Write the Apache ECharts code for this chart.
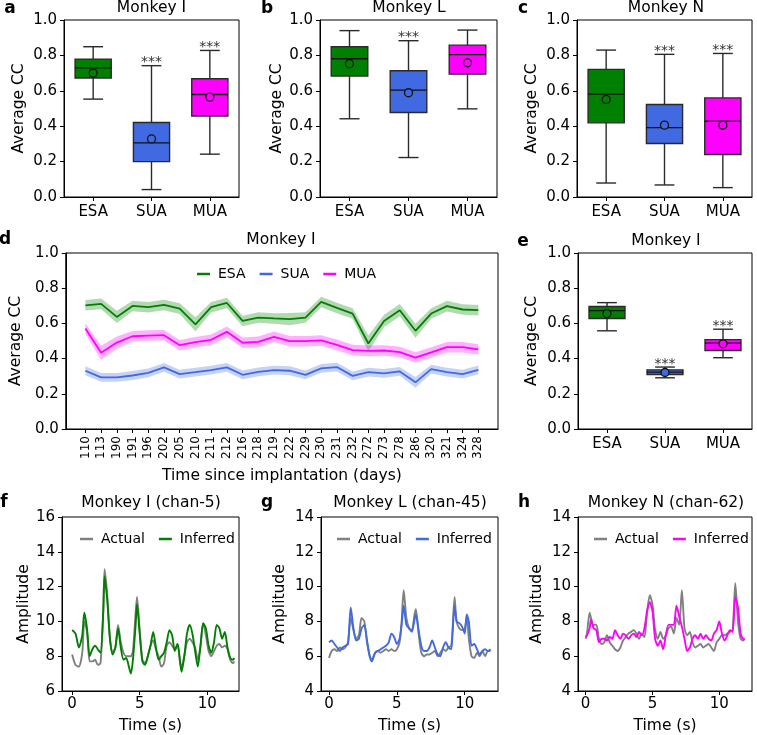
<!DOCTYPE html>
<html><head><meta charset="utf-8">
<script src="https://cdn.jsdelivr.net/npm/echarts@6/dist/echarts.min.js"></script>
<style>html,body{margin:0;padding:0;background:#fff}#c{width:757px;height:735px}</style>
</head><body><div id="c"></div>
<script>
// ---------------- DATA ----------------
const boxCats = ['ESA', 'SUA', 'MUA'];
// Panel a (Monkey I)
const aLow  = [0.553, 0.042, 0.242];
const aQ1   = [0.672, 0.200, 0.458];
const aMed  = [0.730, 0.306, 0.579];
const aQ3   = [0.779, 0.421, 0.668];
const aHigh = [0.849, 0.742, 0.828];
const aMean = [0.700, 0.328, 0.564];
const aSig  = ['', '***', '***'];
// Panel b (Monkey L)
const bLow  = [0.442, 0.223, 0.498];
const bQ1   = [0.683, 0.477, 0.694];
const bMed  = [0.781, 0.604, 0.804];
const bQ3   = [0.849, 0.713, 0.858];
const bHigh = [0.940, 0.883, 0.943];
const bMean = [0.753, 0.589, 0.758];
const bSig  = ['', '***', ''];
// Panel c (Monkey N)
const cLow  = [0.079, 0.068, 0.053];
const cQ1   = [0.419, 0.302, 0.240];
const cMed  = [0.581, 0.392, 0.428];
const cQ3   = [0.721, 0.523, 0.560];
const cHigh = [0.830, 0.806, 0.811];
const cMean = [0.551, 0.406, 0.406];
const cSig  = ['', '***', '***'];
// Panel e (Monkey I, across days)
const eLow  = [0.558, 0.291, 0.405];
const eQ1   = [0.628, 0.310, 0.446];
const eMed  = [0.673, 0.323, 0.488];
const eQ3   = [0.696, 0.336, 0.508];
const eHigh = [0.718, 0.352, 0.567];
const eMean = [0.656, 0.321, 0.484];
const eSig  = ['', '***', '***'];

// Panel d (Monkey I over days)
const daysD = ['110','113','190','191','196','202','205','210','211','212','216','218','219','222','229','230','231','232','272','273','278','286','320','321','324','328'];
const esaD = [0.703,0.711,0.637,0.699,0.692,0.705,0.684,0.595,0.692,0.716,0.614,0.633,0.628,0.624,0.633,0.722,0.688,0.656,0.486,0.614,0.675,0.558,0.656,0.698,0.679,0.675];
const suaD = [0.331,0.293,0.293,0.304,0.319,0.350,0.312,0.323,0.335,0.350,0.308,0.325,0.335,0.331,0.308,0.344,0.352,0.302,0.323,0.316,0.327,0.265,0.340,0.323,0.312,0.336];
const muaD = [0.571,0.433,0.491,0.527,0.531,0.533,0.476,0.493,0.507,0.552,0.490,0.495,0.524,0.499,0.499,0.503,0.478,0.448,0.444,0.446,0.437,0.406,0.435,0.465,0.465,0.452];
const esaErr = [0.030,0.030,0.035,0.030,0.030,0.030,0.030,0.040,0.030,0.030,0.030,0.030,0.030,0.035,0.030,0.030,0.030,0.030,0.045,0.035,0.035,0.040,0.030,0.030,0.030,0.030];
const suaErr = [0.025,0.025,0.025,0.025,0.025,0.025,0.025,0.025,0.025,0.025,0.025,0.025,0.025,0.025,0.025,0.025,0.025,0.025,0.025,0.025,0.025,0.030,0.025,0.025,0.025,0.025];
const muaErr = [0.030,0.040,0.035,0.030,0.030,0.030,0.030,0.030,0.030,0.030,0.030,0.030,0.030,0.030,0.030,0.030,0.030,0.030,0.030,0.030,0.030,0.030,0.030,0.030,0.030,0.030];

// Panel f (Monkey I chan-5)
const tF = [0,0.25,0.5,0.75,0.9,1.1,1.3,1.5,1.7,1.9,2.1,2.3,2.4,2.6,2.8,3.0,3.2,3.4,3.6,3.8,4.0,4.2,4.35,4.5,4.7,4.8,5.0,5.2,5.4,5.6,5.8,6.0,6.2,6.4,6.6,6.8,7.0,7.2,7.4,7.6,7.8,8.0,8.1,8.3,8.5,8.7,8.9,9.1,9.3,9.5,9.7,9.9,10.1,10.3,10.5,10.7,10.9,11.1,11.3,11.5,11.7,11.9,12.0];
const actF = [8.1,7.5,7.4,8.2,10.0,9.4,7.7,7.7,7.8,7.5,7.6,10.5,13.0,11.5,9.0,8.2,8.5,9.8,8.8,8.2,8.0,8.0,8.0,8.3,10.5,11.4,9.5,7.8,7.6,8.0,8.6,8.9,8.4,8.0,7.4,7.6,8.6,8.8,8.6,8.4,8.7,7.6,7.4,8.0,8.8,9.0,8.8,8.5,7.8,8.6,9.9,9.2,8.3,8.0,8.3,8.6,8.7,8.5,8.6,8.4,7.8,7.6,7.7];
const infF = [9.5,9.3,8.5,9.2,10.5,9.6,8.0,8.4,8.6,8.4,8.2,10.5,12.6,11.2,9.0,8.1,8.5,9.6,8.5,7.8,7.9,7.4,7.0,7.8,9.8,11.0,9.3,7.7,7.5,8.0,8.6,9.4,8.5,7.8,8.0,8.2,8.8,9.5,9.2,8.3,8.7,7.6,7.1,8.0,9.3,9.8,9.3,8.3,7.4,8.6,9.9,9.6,8.6,8.2,8.8,9.8,9.6,9.0,9.4,8.5,7.9,7.8,7.9];
// Panel g (Monkey L chan-45)
const tG = [0,0.2,0.4,0.6,0.8,1.0,1.2,1.4,1.6,1.8,2.0,2.2,2.4,2.6,2.8,3.0,3.15,3.4,3.6,3.8,4.0,4.2,4.4,4.6,4.8,5.0,5.2,5.35,5.5,5.7,5.9,6.1,6.3,6.4,6.6,6.8,7.0,7.2,7.4,7.6,7.8,8.0,8.2,8.4,8.6,8.8,9.0,9.1,9.25,9.4,9.6,9.8,10.0,10.15,10.3,10.5,10.7,10.9,11.1,11.3,11.5,11.7,11.9];
const actG = [5.9,6.3,6.4,6.3,6.5,6.4,6.5,6.8,8.2,7.5,7.0,7.2,8.2,8.0,6.8,6.0,5.8,6.2,6.3,6.2,6.3,6.4,6.3,6.4,6.3,6.4,6.8,8.0,9.8,8.2,7.6,7.5,8.4,8.7,7.3,6.2,6.0,6.1,6.1,6.2,6.3,6.0,6.2,6.4,6.3,6.5,6.6,7.5,9.4,8.0,7.6,7.5,7.6,8.3,7.0,6.0,5.9,6.2,6.0,6.3,6.0,6.3,6.3];
const infG = [6.8,6.9,6.7,6.5,6.3,6.5,6.6,6.7,8.8,7.6,6.9,7.0,7.6,7.8,6.9,6.0,5.7,6.2,6.3,6.4,6.5,6.6,6.8,7.3,7.1,6.7,7.0,7.8,8.9,7.8,7.6,7.4,8.1,8.4,7.5,6.6,6.3,6.3,6.5,6.9,6.5,6.1,6.0,6.5,6.8,6.5,6.4,7.3,8.9,8.0,7.9,7.7,7.3,8.4,8.0,6.6,6.7,6.4,6.1,6.3,6.4,6.3,6.4];
// Panel h (Monkey N chan-62)
const tH = [0,0.1,0.3,0.4,0.6,0.8,1.0,1.2,1.4,1.6,1.8,2.0,2.2,2.4,2.6,2.8,3.0,3.2,3.4,3.6,3.8,4.0,4.2,4.4,4.6,4.8,5.0,5.2,5.4,5.6,5.8,6.0,6.2,6.4,6.6,6.8,7.0,7.2,7.4,7.6,7.8,8.0,8.2,8.4,8.6,8.8,9.0,9.2,9.4,9.6,9.8,10.0,10.2,10.4,10.6,10.8,11.0,11.2,11.4,11.6,11.8,11.9];
const actH = [7.0,7.3,8.5,8.2,7.8,7.8,7.0,6.7,6.8,7.2,6.8,6.6,6.4,6.3,6.5,6.9,7.1,7.3,7.4,7.5,7.3,7.0,7.3,7.1,8.5,9.5,9.0,7.5,7.0,7.4,7.0,7.2,7.6,7.7,7.3,8.2,7.8,9.8,7.6,7.2,7.4,6.8,6.5,6.6,6.7,6.5,6.6,6.7,6.5,6.3,6.8,7.0,7.2,7.2,7.3,7.4,7.5,10.2,8.0,7.0,6.9,7.0];
const infH = [7.1,7.2,7.6,8.1,7.6,7.5,6.8,7.0,7.0,6.9,7.1,7.0,7.5,7.2,7.0,7.3,7.2,7.0,7.2,7.3,7.1,7.4,7.2,7.6,8.6,9.1,8.6,7.0,6.6,6.9,6.4,7.2,7.8,7.8,7.8,8.9,8.3,7.7,7.0,6.3,6.5,7.0,7.2,7.0,7.3,7.0,7.2,7.0,6.9,7.3,7.5,8.0,7.3,6.9,7.2,7.5,7.4,9.4,8.8,7.3,7.0,7.0];

// ---------------- STYLE / LAYOUT ----------------
const FONT = 'DejaVu Sans';
const C_ESA = '#008000', C_SUA = '#4169e1', C_MUA = '#ff00ff', C_ACT = '#808080';
const boxColors = [C_ESA, C_SUA, C_MUA];
const layout = {
  a: {left: 64, top: 20, width: 175, height: 177},
  b: {left: 320, top: 20, width: 177, height: 177},
  c: {left: 577, top: 20, width: 175, height: 177},
  d: {left: 64, top: 253, width: 434, height: 176},
  e: {left: 578, top: 253, width: 174, height: 176},
  f: {left: 62, top: 517, width: 177, height: 176},
  g: {left: 321, top: 517, width: 177, height: 176},
  h: {left: 578, top: 517, width: 174, height: 176}
};
const order = ['a','b','c','d','e','f','g','h'];
const gi = k => order.indexOf(k);

const grid = order.map(k => Object.assign({}, layout[k], {show: true, borderColor: '#000', borderWidth: 1, backgroundColor: 'transparent'}));

const lineCol = {color: '#000', width: 1};
function tickLabel(extra) {
  return Object.assign({color: '#000', fontFamily: FONT, fontSize: 15}, extra || {});
}
function xAxisBox(g) {
  return {gridIndex: g, type: 'value', min: 0.5, max: 3.5,
    axisLine: {show: true, onZero: false, lineStyle: lineCol},
    axisTick: {show: true, length: 4, customValues: [1, 2, 3], lineStyle: lineCol},
    axisLabel: tickLabel({customValues: [1, 2, 3], margin: 8, formatter: v => boxCats[Math.round(v) - 1]}),
    splitLine: {show: false}};
}
function yAxisV(g, min, max, interval, dec, name, gap) {
  return {gridIndex: g, type: 'value', min, max, interval,
    name, nameLocation: 'middle', nameRotate: 90, nameGap: gap,
    nameTextStyle: {color: '#000', fontFamily: FONT, fontSize: 15.5},
    axisLine: {show: true, onZero: false, lineStyle: lineCol},
    axisTick: {show: true, length: 4, lineStyle: lineCol},
    axisLabel: tickLabel({margin: 7, formatter: v => v.toFixed(dec)}),
    splitLine: {show: false}};
}
function xAxisTime(g, min, max) {
  return {gridIndex: g, type: 'value', min, max,
    name: 'Time (s)', nameLocation: 'middle', nameGap: 27,
    nameTextStyle: {color: '#000', fontFamily: FONT, fontSize: 15.5},
    axisLine: {show: true, onZero: false, lineStyle: lineCol},
    axisTick: {show: true, length: 4, customValues: [0, 5, 10], lineStyle: lineCol},
    axisLabel: tickLabel({customValues: [0, 5, 10], margin: 6}),
    splitLine: {show: false}};
}
const xAxisD = {gridIndex: gi('d'), type: 'value', min: -1.25, max: 26.25,
  name: 'Time since implantation (days)', nameLocation: 'middle', nameGap: 39,
  nameTextStyle: {color: '#000', fontFamily: FONT, fontSize: 15.5},
  axisLine: {show: true, onZero: false, lineStyle: lineCol},
  axisTick: {show: true, length: 4, customValues: daysD.map((_, i) => i), lineStyle: lineCol},
  axisLabel: {customValues: daysD.map((_, i) => i), rotate: 90, margin: 7, color: '#000', fontFamily: FONT, fontSize: 12,
    formatter: v => daysD[Math.round(v)]},
  splitLine: {show: false}};

const xAxis = [xAxisBox(gi('a')), xAxisBox(gi('b')), xAxisBox(gi('c')), xAxisD, xAxisBox(gi('e')),
  xAxisTime(gi('f'), -0.75, 12.35), xAxisTime(gi('g'), -0.59, 12.45), xAxisTime(gi('h'), -0.57, 12.45)];
const yAxis = [
  yAxisV(gi('a'), 0, 1, 0.2, 1, 'Average CC', 37),
  yAxisV(gi('b'), 0, 1, 0.2, 1, 'Average CC', 35),
  yAxisV(gi('c'), 0, 1, 0.2, 1, 'Average CC', 37),
  yAxisV(gi('d'), 0, 1, 0.2, 1, 'Average CC', 37),
  yAxisV(gi('e'), 0, 1, 0.2, 1, 'Average CC', 38),
  yAxisV(gi('f'), 6, 16, 2, 0, 'Amplitude', 30),
  yAxisV(gi('g'), 4, 14, 2, 0, 'Amplitude', 33),
  yAxisV(gi('h'), 4, 14, 2, 0, 'Amplitude', 33)
];

function boxSeries(k, S) {
  const g = gi(k);
  return {type: 'custom', name: 'box-' + k, xAxisIndex: g, yAxisIndex: g, clip: false, silent: true, z: 3,
    data: S.high.map((v, i) => [i + 1, v]), encode: {x: 0, y: 1},
    renderItem: (params, api) => {
      const i = params.dataIndex, x = i + 1;
      const bw = api.size([0.62, 0])[0], cw = api.size([0.34, 0])[0];
      const P = v => api.coord([x, v]);
      const lo = P(S.low[i]), q1 = P(S.q1[i]), md = P(S.med[i]), q3 = P(S.q3[i]), hi = P(S.high[i]), mn = P(S.mean[i]);
      const cx = lo[0], edge = '#2a2a2a', lw = 1.4;
      const ls = {stroke: edge, lineWidth: lw};
      const ch = [
        {type: 'line', shape: {x1: cx, y1: lo[1], x2: cx, y2: q1[1]}, style: ls},
        {type: 'line', shape: {x1: cx, y1: q3[1], x2: cx, y2: hi[1]}, style: ls},
        {type: 'line', shape: {x1: cx - cw / 2, y1: lo[1], x2: cx + cw / 2, y2: lo[1]}, style: ls},
        {type: 'line', shape: {x1: cx - cw / 2, y1: hi[1], x2: cx + cw / 2, y2: hi[1]}, style: ls},
        {type: 'rect', shape: {x: cx - bw / 2, y: q3[1], width: bw, height: q1[1] - q3[1]}, style: {fill: boxColors[i], stroke: edge, lineWidth: lw}},
        {type: 'line', shape: {x1: cx - bw / 2, y1: md[1], x2: cx + bw / 2, y2: md[1]}, style: {stroke: '#111', lineWidth: 1.3}},
        {type: 'circle', shape: {cx: cx, cy: mn[1], r: 4}, style: {fill: boxColors[i], stroke: '#111', lineWidth: 1.3}}
      ];
      if (S.sig[i]) ch.push({type: 'text', x: cx, y: hi[1] - 3, style: {text: S.sig[i], font: '14px "DejaVu Sans"', fill: '#333', align: 'center', verticalAlign: 'middle'}});
      return {type: 'group', children: ch};
    }};
}

function bandSeries(vals, errs, color) {
  const g = gi('d');
  return {type: 'custom', xAxisIndex: g, yAxisIndex: g, silent: true, z: 1,
    data: vals.map((v, i) => [i, v]), encode: {x: 0, y: 1},
    renderItem: (params, api) => {
      if (params.dataIndex !== 0) return null;
      const up = vals.map((v, i) => api.coord([i, v + errs[i]]));
      const dn = vals.map((v, i) => api.coord([i, v - errs[i]])).reverse();
      return {type: 'polygon', shape: {points: up.concat(dn)}, style: {fill: color, opacity: 0.3}};
    }};
}
function lineD(name, vals, color) {
  const g = gi('d');
  return {type: 'line', name, xAxisIndex: g, yAxisIndex: g, z: 3, symbol: 'none', showSymbol: false,
    data: vals.map((v, i) => [i, v]), lineStyle: {color, width: 1.8}, itemStyle: {color}};
}
function lineT(k, name, t, vals, color, z) {
  const g = gi(k);
  return {type: 'line', name: name + '|' + k, xAxisIndex: g, yAxisIndex: g, z, symbol: 'none', showSymbol: false,
    smooth: 0.25, data: t.map((x, i) => [x, vals[i]]), lineStyle: {color, width: 1.9}, itemStyle: {color}};
}

const series = [
  boxSeries('a', {low: aLow, q1: aQ1, med: aMed, q3: aQ3, high: aHigh, mean: aMean, sig: aSig}),
  boxSeries('b', {low: bLow, q1: bQ1, med: bMed, q3: bQ3, high: bHigh, mean: bMean, sig: bSig}),
  boxSeries('c', {low: cLow, q1: cQ1, med: cMed, q3: cQ3, high: cHigh, mean: cMean, sig: cSig}),
  boxSeries('e', {low: eLow, q1: eQ1, med: eMed, q3: eQ3, high: eHigh, mean: eMean, sig: eSig}),
  bandSeries(esaD, esaErr, C_ESA), bandSeries(suaD, suaErr, C_SUA), bandSeries(muaD, muaErr, C_MUA),
  lineD('ESA', esaD, C_ESA), lineD('SUA', suaD, C_SUA), lineD('MUA', muaD, C_MUA),
  lineT('f', 'Actual', tF, actF, C_ACT, 2), lineT('f', 'Inferred', tF, infF, C_ESA, 3),
  lineT('g', 'Actual', tG, actG, C_ACT, 2), lineT('g', 'Inferred', tG, infG, C_SUA, 3),
  lineT('h', 'Actual', tH, actH, C_ACT, 2), lineT('h', 'Inferred', tH, infH, C_MUA, 3)
];

const legStyle = {icon: 'rect', itemWidth: 13, itemHeight: 2.5, itemGap: 14, selectedMode: false,
  textStyle: {fontFamily: FONT, fontSize: 14, color: '#000', padding: [0, 0, 0, 3]},
  formatter: n => n.split('|')[0]};
const legend = [
  Object.assign({}, legStyle, {data: ['ESA', 'SUA', 'MUA'], left: 192, top: 262}),
  Object.assign({}, legStyle, {data: ['Actual|f', 'Inferred|f'], left: 75, top: 527}),
  Object.assign({}, legStyle, {data: ['Actual|g', 'Inferred|g'], left: 332, top: 527}),
  Object.assign({}, legStyle, {data: ['Actual|h', 'Inferred|h'], left: 589, top: 527})
];

function txt(text, x, y, size, bold) {
  return {type: 'text', x, y, silent: true,
    style: {text, font: (bold ? 'bold ' : '') + size + 'px "DejaVu Sans"', fill: '#000', align: 'center', verticalAlign: 'middle'}};
}
const graphic = [
  txt('Monkey I', 151.5, 8, 15.5), txt('Monkey L', 409, 8, 15.5), txt('Monkey N', 666, 8, 15.5),
  txt('Monkey I', 281, 240, 15.5), txt('Monkey I', 666, 241, 15.5),
  txt('Monkey I (chan-5)', 151, 503, 15.5), txt('Monkey L (chan-45)', 410, 503, 15.5), txt('Monkey N (chan-62)', 666, 503, 15.5),
  txt('a', 10, 9, 17, true), txt('b', 267, 9, 17, true), txt('c', 523, 9, 17, true),
  txt('d', 5, 240, 17, true), txt('e', 523, 242, 17, true),
  txt('f', 4, 503, 17, true), txt('g', 267, 503, 17, true), txt('h', 524, 503, 17, true)
];

const chart = echarts.init(document.getElementById('c'), null, {renderer: 'canvas'});
chart.setOption({animation: false, backgroundColor: '#fff', textStyle: {fontFamily: FONT},
  grid, xAxis, yAxis, series, legend, graphic});
</script></body></html>
